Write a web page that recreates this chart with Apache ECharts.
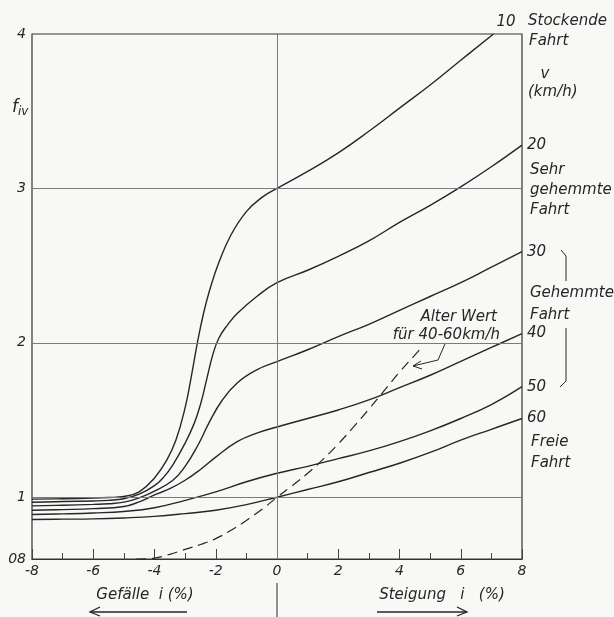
<!DOCTYPE html>
<html><head><meta charset="utf-8">
<script src="https://cdn.jsdelivr.net/npm/echarts@6/dist/echarts.min.js"></script>
<style>html,body{margin:0;padding:0;background:#f8f8f6}#c{width:614px;height:617px}</style>
</head><body><div id="c"></div>
<script>
// Steigung/Gefälle i (%) and factor f_iv
const i10 = [-8,-7,-6,-5.5,-5,-4.5,-4,-3.6,-3.3,-3.0,-2.8,-2.6,-2.4,-2.2,-1.9,-1.5,-1,-0.5,0,1,2,3,4,5,6,7.07];
const f10 = [0.994,0.995,0.997,0.999,1.005,1.035,1.125,1.24,1.37,1.58,1.78,2.0,2.19,2.34,2.52,2.70,2.85,2.94,3.0,3.11,3.23,3.37,3.52,3.67,3.83,4.0];
const i20 = [-8,-7,-6,-5.5,-5,-4.5,-4,-3.7,-3.4,-3.0,-2.7,-2.5,-2.3,-2.1,-1.9,-1.6,-1.3,-0.66,0,1,2,3,4,5,6,7,8];
const f20 = [0.984,0.986,0.988,0.99,0.995,1.02,1.075,1.13,1.21,1.35,1.48,1.60,1.76,1.92,2.03,2.12,2.19,2.30,2.39,2.47,2.56,2.66,2.78,2.89,3.01,3.14,3.28];
const i30 = [-8,-7,-6,-5.5,-5,-4.5,-4,-3.4,-3.0,-2.6,-2.2,-1.8,-1.3,-0.66,0,1,2,3,4,5,6,7,8];
const f30 = [0.972,0.974,0.977,0.979,0.984,0.998,1.04,1.11,1.20,1.33,1.49,1.625,1.74,1.825,1.878,1.955,2.04,2.12,2.21,2.30,2.39,2.49,2.59];
const i40 = [-8,-7,-6,-5,-4.5,-4,-3.5,-3.0,-2.5,-2.0,-1.3,-0.66,0,1,2,3,4,5,6,7,8];
const f40 = [0.958,0.96,0.963,0.97,0.985,1.015,1.055,1.11,1.18,1.26,1.36,1.415,1.455,1.51,1.565,1.63,1.71,1.79,1.88,1.97,2.06];
const i50 = [-8,-7,-6,-5,-4,-3,-2,-1,0,1,2,3,4,5,6,7,8];
const f50 = [0.944,0.946,0.949,0.954,0.966,0.99,1.035,1.10,1.155,1.20,1.25,1.30,1.36,1.43,1.51,1.60,1.716];
const i60 = [-8,-7,-6,-5,-4,-3,-2,-1,0,1,2,3,4,5,6,7,8];
const f60 = [0.928,0.929,0.93,0.933,0.938,0.947,0.958,0.976,1.0,1.05,1.10,1.16,1.22,1.29,1.37,1.44,1.51];
const iOld = [-4.6,-4,-3.5,-3,-2.5,-2,-1.5,-1,-0.5,0,0.5,1,1.5,2,2.5,3,3.5,4,4.5,4.7];
const fOld = [0.8,0.803,0.815,0.831,0.847,0.866,0.893,0.925,0.96,1.0,1.075,1.155,1.245,1.345,1.455,1.57,1.69,1.81,1.92,1.965];
const speeds = ['10','20','30','40','50','60'];
const yTicks = [0.8,1,2,3,4];
const xTickLabels = [-8,-6,-4,-2,0,2,4,6,8];

// the axis below 1 is drawn at double scale
const ymap = v => v >= 1 ? v : 1 - 2 * (1 - v);
const unmap = t => t >= 1 ? t : 1 - (1 - t) / 2;
const pts = (xs, ys) => xs.map((x, k) => [x, ymap(ys[k])]);

const INK = '#262626';
const FONT = '"DejaVu Sans", sans-serif';
const curves = [[i10,f10],[i20,f20],[i30,f30],[i40,f40],[i50,f50],[i60,f60]];

const series = curves.map((c, k) => ({
  name: speeds[k], type: 'line', data: pts(c[0], c[1]),
  smooth: 0.45, showSymbol: false, silent: true,
  lineStyle: {color: INK, width: 1.4},
  endLabel: {show: true, formatter: '{a}', color: INK, fontStyle: 'italic',
    fontFamily: FONT, fontSize: 15, distance: 5,
    offset: k === 0 ? [-2, -12] : [0, 0]}
}));
series.push({
  name: 'alt', type: 'line', data: pts(iOld, fOld), smooth: 0.4, showSymbol: false, silent: true,
  lineStyle: {color: INK, width: 1.2, type: [10, 6]},
  markLine: {silent: true, symbol: 'none', label: {show: false},
    lineStyle: {color: '#7a7a7a', width: 1, type: 'solid'},
    data: [{yAxis: 1}, {yAxis: 2}, {yAxis: 3}, {xAxis: 0}]}
});

const txt = (text, x, y, align, size) => ({type: 'text', x, y, silent: true,
  style: {text, fill: INK, font: 'italic ' + (size || 15) + 'px ' + FONT,
    textAlign: align || 'left', textVerticalAlign: 'middle'}});
const line = (points, w) => ({type: 'polyline', silent: true,
  shape: {points}, style: {stroke: INK, lineWidth: w || 1.2, fill: null}});

const chart = echarts.init(document.getElementById('c'));
chart.setOption({
  backgroundColor: '#f8f8f6',
  animation: false,
  grid: {left: 32, right: 92, top: 34, bottom: 58, show: true, borderColor: '#333', borderWidth: 1.2},
  xAxis: {type: 'value', min: -8, max: 8, interval: 2,
    axisLine: {show: true, lineStyle: {color: '#333', width: 1.2}},
    axisTick: {show: true, inside: true, length: 10, lineStyle: {color: '#444'}},
    minorTick: {show: true, splitNumber: 2, length: 6, lineStyle: {color: '#444'}},
    splitLine: {show: false},
    axisLabel: {color: INK, fontStyle: 'italic', fontFamily: FONT, fontSize: 14, margin: 5,
      formatter: v => xTickLabels.indexOf(Math.round(v)) >= 0 ? String(Math.round(v)) : ''}},
  yAxis: {type: 'value', min: 0.6, max: 4, interval: 0.2,
    axisLine: {show: false}, axisTick: {show: false}, splitLine: {show: false},
    axisLabel: {color: INK, fontStyle: 'italic', fontFamily: FONT, fontSize: 14, margin: 6,
      formatter: v => {
        const r = unmap(v);
        for (const t of yTicks) if (Math.abs(r - t) < 1e-6) return t < 1 ? '08' : String(t);
        return '';
      }}},
  series,
  graphic: [
    {type: 'text', x: 12, y: 108, silent: true,
      style: {text: '{f|f}{s|iv}', textVerticalAlign: 'middle',
        rich: {f: {font: 'italic 17px ' + FONT, fill: INK},
               s: {font: 'italic 12px ' + FONT, fill: INK, padding: [8, 0, 0, 0]}}}},
    txt('Stockende', 528, 21), txt('Fahrt', 529, 41),
    txt('v', 545, 74, 'center'), txt('(km/h)', 528, 92),
    txt('Sehr', 530, 170), txt('gehemmte', 530, 190), txt('Fahrt', 530, 210),
    txt('Gehemmte', 530, 293), txt('Fahrt', 530, 315),
    txt('Freie', 531, 442), txt('Fahrt', 531, 463),
    line([[561, 250], [566, 256], [566, 281]], 1),
    line([[566, 328], [566, 381], [560, 387]], 1),
    txt('Alter Wert', 497, 317, 'right'), txt('für 40-60km/h', 500, 335, 'right'),
    line([[445, 344], [438, 360], [413, 366]], 1),
    line([[421, 361], [413, 366], [422, 369]], 1),
    txt('Gefälle  i (%)', 145, 595, 'center', 15),
    txt('Steigung   i   (%)', 442, 595, 'center', 15),
    line([[277, 583], [277, 617]], 1),
    line([[90, 612], [187, 612]], 1.3),
    line([[100, 607], [90, 612], [100, 616]], 1.3),
    line([[377, 612], [467, 612]], 1.3),
    line([[457, 607], [467, 612], [457, 616]], 1.3)
  ]
});
</script></body></html>
